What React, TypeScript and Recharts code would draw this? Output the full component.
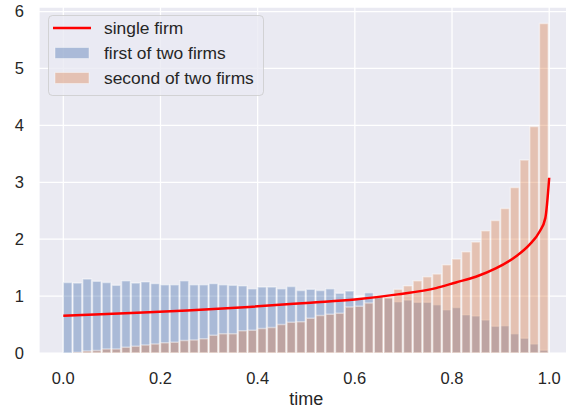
import {
  ComposedChart,
  Bar,
  Line,
  XAxis,
  YAxis,
  CartesianGrid,
  Legend,
} from "recharts";

// histogram densities, 50 bins of width 0.02 on [0, 1]
const firstOfTwo = [
  1.24, 1.23, 1.3, 1.26, 1.24, 1.19, 1.27, 1.23, 1.25, 1.22,
  1.2, 1.2, 1.27, 1.2, 1.2, 1.22, 1.2, 1.19, 1.18, 1.13,
  1.16, 1.16, 1.13, 1.17, 1.1, 1.12, 1.1, 1.13, 1.05, 1.09,
  0.96, 1.06, 0.99, 0.96, 0.9, 0.93, 0.89, 0.89, 0.85, 0.76,
  0.8, 0.67, 0.65, 0.58, 0.47, 0.48, 0.34, 0.26, 0.16, 0.05,
];

const secondOfTwo = [
  0, 0.01, 0.035, 0.045, 0.07, 0.07, 0.1, 0.12, 0.14, 0.16,
  0.18, 0.19, 0.22, 0.23, 0.25, 0.31, 0.34, 0.34, 0.39, 0.4,
  0.43, 0.45, 0.5, 0.54, 0.55, 0.61, 0.66, 0.68, 0.7, 0.81,
  0.82, 0.88, 1.01, 0.98, 1.12, 1.18, 1.27, 1.34, 1.39, 1.55,
  1.65, 1.78, 1.95, 2.15, 2.33, 2.54, 2.91, 3.39, 3.98, 5.79,
];

// density curve for a single firm
const lineTimes = [
  0, 0.127, 0.255, 0.382, 0.509, 0.6, 0.688, 0.767, 0.808, 0.849,
  0.891, 0.932, 0.959, 0.98, 0.992, 1.0,
];
const lineDensity = [
  0.654, 0.7, 0.748, 0.81, 0.885, 0.94, 1.03, 1.14, 1.24, 1.34,
  1.49, 1.7, 1.9, 2.13, 2.37, 3.08,
];

const xTicks = [0, 0.2, 0.4, 0.6, 0.8, 1.0];
const yTicks = [0, 1, 2, 3, 4, 5, 6];

const binLabels = firstOfTwo.map((_, i) => (i * 0.02 + 0.01).toFixed(2));

const histData = binLabels.map((bin, i) => ({
  bin,
  first: firstOfTwo[i],
  second: secondOfTwo[i],
}));

const singleFirm = lineTimes.map((t, i) => ({ t, v: lineDensity[i] }));

const legendItems = [
  { label: "single firm", kind: "line", color: "#ff0000" },
  { label: "first of two firms", kind: "patch", color: "#4C72B0" },
  { label: "second of two firms", kind: "patch", color: "#DD8452" },
];

const FONT = "'Liberation Sans', Arial, Helvetica, sans-serif";
const TEXT = "#262626";
const BG = "#EAEAF2";

const W = 600;
const H = 409;
const PLOT_W = 534.5;
const PAD = (PLOT_W * 0.05) / 1.1;

function LegendBox() {
  return (
    <svg width={216} height={81} style={{ display: "block", fontFamily: FONT }}>
      <rect
        x={0.5}
        y={0.5}
        width={215}
        height={80}
        rx={4}
        fill={BG}
        fillOpacity={0.8}
        stroke="#cccccc"
        strokeOpacity={0.8}
      />
      {legendItems.map((item, i) => {
        const cy = 13 + i * 25;
        return (
          <g key={item.label}>
            {item.kind === "line" ? (
              <line x1={5} x2={43} y1={cy} y2={cy} stroke={item.color} strokeWidth={2.5} />
            ) : (
              <rect
                x={7}
                y={cy - 5.5}
                width={34}
                height={11}
                fill={item.color}
                fillOpacity={0.4}
                stroke="#ffffff"
                strokeOpacity={0.4}
              />
            )}
            <text x={56} y={cy + 6} fontSize={17.4} fill={TEXT}>
              {item.label}
            </text>
          </g>
        );
      })}
    </svg>
  );
}

export default function App() {
  return (
    <div
      style={{
        position: "fixed",
        left: 0,
        top: 0,
        width: 566,
        height: 409,
        overflow: "hidden",
        background: "#ffffff",
        fontFamily: FONT,
      }}
    >
      <ComposedChart
        width={W}
        height={H}
        data={histData}
        margin={{ top: 7, right: W - 39 - PLOT_W, bottom: 0, left: 0 }}
      >
        <CartesianGrid
          xAxisId="t"
          stroke="#ffffff"
          strokeWidth={1.25}
          fill={BG}
          fillOpacity={1}
        />
        <XAxis
          xAxisId="t"
          dataKey="t"
          type="number"
          domain={[-0.05, 1.05]}
          allowDataOverflow
          ticks={xTicks}
          interval={0}
          tickFormatter={(v: number) => v.toFixed(1)}
          axisLine={false}
          tickLine={false}
          tickSize={0}
          tickMargin={19}
          height={56}
          tick={{ fill: TEXT, fontSize: 16.5 }}
          label={{ value: "time", position: "insideBottom", offset: 4, fill: TEXT, fontSize: 18 }}
        />
        {/* bin axes for the two histograms, kept out of the way on top */}
        <XAxis
          xAxisId="a"
          dataKey="bin"
          type="category"
          orientation="top"
          hide
          padding={{ left: PAD, right: PAD }}
        />
        <XAxis
          xAxisId="b"
          dataKey="bin"
          type="category"
          orientation="top"
          hide
          padding={{ left: PAD, right: PAD }}
        />
        <YAxis
          type="number"
          domain={[0, 6.08]}
          allowDataOverflow
          ticks={yTicks}
          interval={0}
          axisLine={false}
          tickLine={false}
          tickSize={0}
          tickMargin={15}
          width={39}
          tick={{ fill: TEXT, fontSize: 16.5 }}
        />
        <YAxis yAxisId="ly" type="number" domain={[0, 6.08]} allowDataOverflow hide />
        <Bar
          xAxisId="a"
          dataKey="first"
          fill="#4C72B0"
          fillOpacity={0.4}
          stroke="#ffffff"
          strokeOpacity={0.45}
          strokeWidth={1.5}
          barSize={9.72}
          isAnimationActive={false}
        />
        <Bar
          xAxisId="b"
          dataKey="second"
          fill="#DD8452"
          fillOpacity={0.4}
          stroke="#ffffff"
          strokeOpacity={0.45}
          strokeWidth={1.5}
          barSize={9.72}
          isAnimationActive={false}
        />
        <Line
          xAxisId="t"
          yAxisId="ly"
          data={singleFirm}
          dataKey="v"
          type="monotone"
          stroke="#ff0000"
          strokeWidth={2.5}
          dot={false}
          activeDot={false}
          isAnimationActive={false}
        />
        <Legend
          layout="vertical"
          align="center"
          verticalAlign="middle"
          wrapperStyle={{ left: 47.5, top: 14.5, width: 216, height: 81 }}
          content={() => <LegendBox />}
        />
      </ComposedChart>
    </div>
  );
}
